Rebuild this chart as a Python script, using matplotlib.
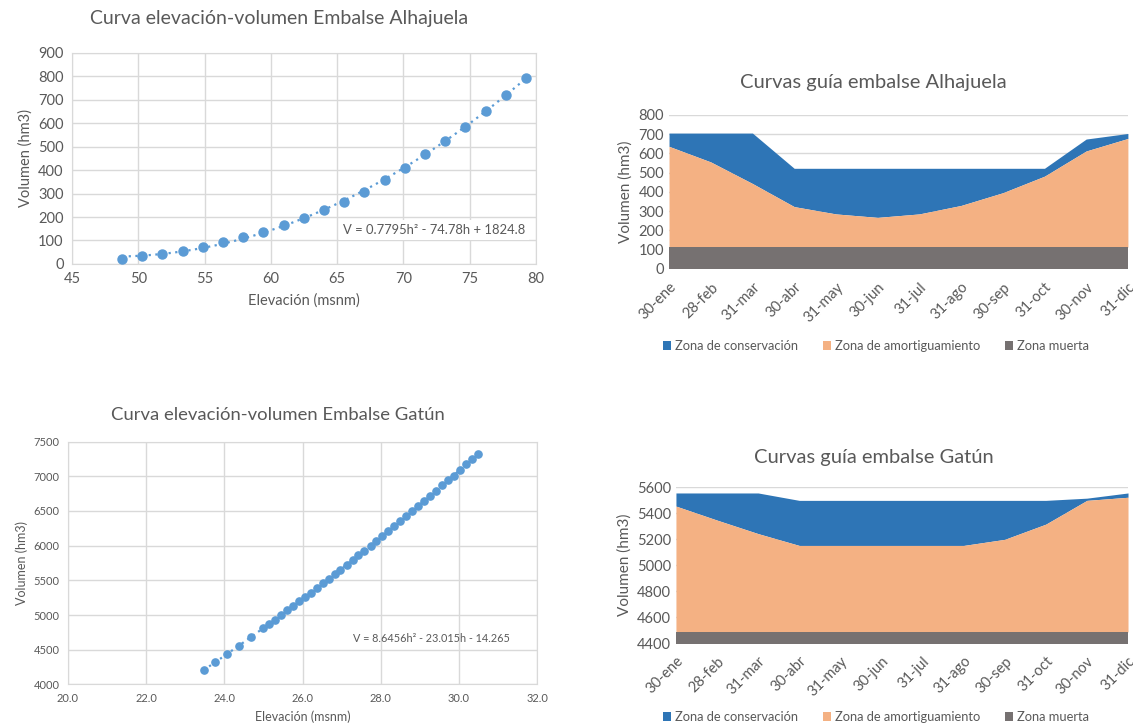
import matplotlib.pyplot as plt
import numpy as np

plt.rcParams['font.family'] = ['Lato', 'DejaVu Sans']

# curva elevacion-volumen Alhajuela
alh_elev = [48.77, 50.29, 51.82, 53.34, 54.86, 56.39, 57.91, 59.44, 60.96, 62.48, 64.01,
            65.53, 67.06, 68.58, 70.10, 71.63, 73.15, 74.68, 76.20, 77.72, 79.25]
alh_vol = [22, 32, 44, 57, 74, 92, 115, 137, 166, 195, 228,
           262, 307, 358, 410, 467, 525, 586, 654, 720, 795]

# curva elevacion-volumen Gatun
gat_elev = [23.47, 23.77, 24.08, 24.38, 24.69, 24.99, 25.15, 25.30, 25.45, 25.60, 25.76,
            25.91, 26.06, 26.21, 26.37, 26.52, 26.67, 26.82, 26.97, 27.13, 27.28, 27.43,
            27.58, 27.74, 27.89, 28.04, 28.19, 28.35, 28.50, 28.65, 28.80, 28.96, 29.11,
            29.26, 29.41, 29.57, 29.72, 29.87, 30.02, 30.18, 30.33, 30.48]
gat_vol = [4209, 4320, 4437, 4553, 4689, 4806, 4874, 4932, 5005, 5068, 5136,
           5199, 5257, 5320, 5388, 5456, 5519, 5592, 5655, 5723, 5791, 5859,
           5927, 5995, 6073, 6136, 6209, 6282, 6354, 6427, 6500, 6573, 6646,
           6714, 6791, 6869, 6942, 7010, 7087, 7170, 7243, 7320]

# curvas guia
meses = ['30-ene', '28-feb', '31-mar', '30-abr', '31-may', '30-jun',
         '31-jul', '31-ago', '30-sep', '31-oct', '30-nov', '31-dic']
alh_muerta = [113] * 12
alh_amort = [637, 556, 444, 324, 286, 268, 286, 330, 396, 482, 613, 678]
alh_cons = [706, 706, 706, 523, 523, 523, 523, 523, 523, 523, 675, 704]
gat_muerta = [4485] * 12
gat_amort = [5454, 5346, 5242, 5151, 5151, 5151, 5151, 5151, 5198, 5315, 5498, 5522]
gat_cons = [5555, 5555, 5555, 5498, 5498, 5498, 5498, 5498, 5498, 5498, 5515, 5555]

txt = '#595959'
grid = '#D9D9D9'
c_cons, c_amort, c_muerta = '#2E75B6', '#F4B183', '#767171'
c_pts = '#5B9BD5'

fig = plt.figure(figsize=(11.33, 7.25), dpi=100)


def scatter_panel(rect, x, y, xlim, ylim, xticks, yticks, xfmt, eq, eqpos, title, titlex, titley,
                  fs, lfs, tfs, efs, ms, boxed):
    ax = fig.add_axes(rect)
    ax.plot(x, y, 'o', color=c_pts, markersize=ms, zorder=3)
    c = np.polyfit(x, y, 2)
    xs = np.linspace(min(x), max(x), 200)
    ax.plot(xs, np.polyval(c, xs), linestyle=(0, (1, 2)), color=c_pts, linewidth=1.6, zorder=2)
    ax.set_xlim(*xlim)
    ax.set_ylim(*ylim)
    ax.set_xticks(xticks)
    ax.set_xticklabels([xfmt.format(v) for v in xticks])
    ax.set_yticks(yticks)
    ax.grid(True, color=grid, linewidth=1)
    ax.set_axisbelow(True)
    for s in ax.spines.values():
        s.set_color(grid)
    ax.tick_params(length=0, colors=txt, labelsize=fs, pad=6)
    ax.set_xlabel('Elevación (msnm)', color=txt, fontsize=lfs, labelpad=5)
    ax.set_ylabel('Volumen (hm3)', color=txt, fontsize=lfs, labelpad=4)
    bbox = dict(facecolor='white', edgecolor='none', pad=3) if boxed else None
    ax.text(eqpos[0], eqpos[1], eq, ha='center', va='center', color=txt, fontsize=efs,
            bbox=bbox, zorder=4)
    fig.text(titlex, titley, title, ha='center', va='center', color=txt, fontsize=tfs)
    return ax


scatter_panel([0.0636, 0.636, 0.4095, 0.291], alh_elev, alh_vol, (45, 80), (0, 900),
              range(45, 81, 5), range(0, 901, 100), '{}',
              'V = 0.7795h² - 74.78h + 1824.8', (72.3, 145),
              'Curva elevación-volumen Embalse Alhajuela', 0.246, 0.975,
              10.5, 10.5, 14, 9.4, 6.5, True)

scatter_panel([0.060, 0.056, 0.414, 0.335], gat_elev, gat_vol, (20, 32), (4000, 7500),
              np.arange(20, 32.1, 2), range(4000, 7501, 500), '{:.1f}',
              'V = 8.6456h² - 23.015h - 14.265', (29.3, 4660),
              'Curva elevación-volumen Embalse Gatún', 0.2455, 0.427,
              8, 9, 13.3, 7.8, 5.2, False)


def area_panel(rect, muerta, amort, cons, ylim, yticks, title, titley, legy):
    ax = fig.add_axes(rect)
    x = np.arange(len(meses))
    ax.fill_between(x, cons, amort, color=c_cons, linewidth=0, label='Zona de conservación')
    ax.fill_between(x, amort, muerta, color=c_amort, linewidth=0, label='Zona de amortiguamiento')
    ax.fill_between(x, muerta, 0, color=c_muerta, linewidth=0, label='Zona muerta')
    ax.set_xlim(0, len(meses) - 1)
    ax.set_ylim(*ylim)
    ax.set_yticks(yticks)
    ax.set_xticks(x)
    ax.set_xticklabels(meses, rotation=45, ha='right', rotation_mode='anchor')
    ax.grid(True, axis='y', color=grid, linewidth=1)
    ax.set_axisbelow(True)
    for s in ax.spines.values():
        s.set_visible(False)
    ax.tick_params(length=0, colors=txt, labelsize=10.5)
    ax.tick_params(axis='x', pad=8)
    ax.set_ylabel('Volumen (hm3)', color=txt, fontsize=11, labelpad=4)
    fig.text(0.771, titley, title, ha='center', va='center', color=txt, fontsize=14.5)
    fig.legend(loc='center', bbox_to_anchor=(0.773, legy), ncol=3, frameon=False,
               handles=ax.get_legend_handles_labels()[0], fontsize=9.3, labelcolor=txt,
               handlelength=0.65, handleheight=0.65, handletextpad=0.3, columnspacing=1.9)
    return ax


area_panel([0.5905, 0.629, 0.405, 0.2124], alh_muerta, alh_amort, alh_cons,
           (0, 800), range(0, 801, 100), 'Curvas guía embalse Alhajuela', 0.886, 0.523)

area_panel([0.5966, 0.1131, 0.399, 0.215], gat_muerta, gat_amort, gat_cons,
           (4400, 5600), range(4400, 5601, 200), 'Curvas guía embalse Gatún', 0.369, 0.011)

plt.savefig('out.png', dpi=100)
